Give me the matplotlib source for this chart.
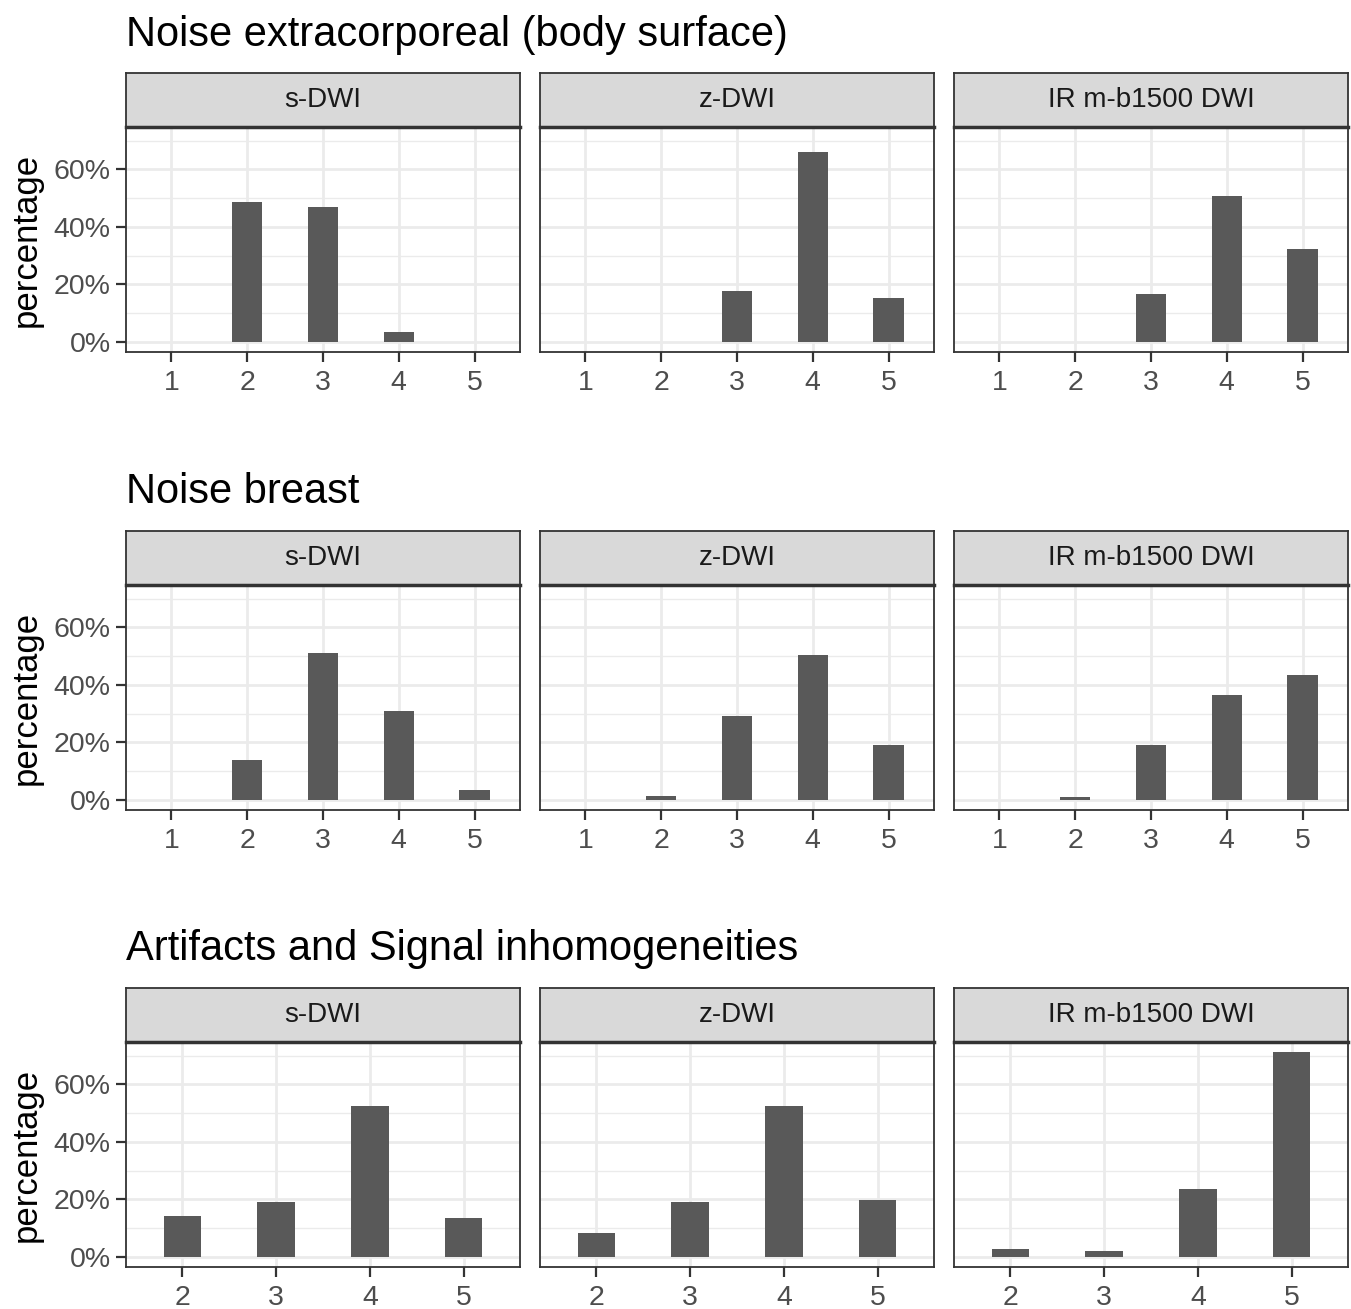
import matplotlib.pyplot as plt
from matplotlib.ticker import FuncFormatter, MultipleLocator

plt.rcParams['font.family'] = ['Liberation Sans', 'DejaVu Sans']

# ------------------------------------------------------------
# data (percent of ratings per score)
# ------------------------------------------------------------
methods = ["s-DWI", "z-DWI", "IR m-b1500 DWI"]
row_titles = ["Noise extracorporeal (body surface)",
              "Noise breast",
              "Artifacts and Signal inhomogeneities"]

scores_noise = [1, 2, 3, 4, 5]
scores_artifacts = [2, 3, 4, 5]

body_sdwi = [0, 48.7, 46.8, 3.5, 0]
body_zdwi = [0, 0, 17.8, 66.1, 15.2]
body_ir = [0, 0, 16.6, 50.8, 32.2]

breast_sdwi = [0, 13.9, 51.0, 31.0, 3.4]
breast_zdwi = [0, 1.4, 29.0, 50.4, 19.1]
breast_ir = [0, 0.8, 19.1, 36.6, 43.5]

artif_sdwi = [14.1, 19.2, 52.6, 13.4]
artif_zdwi = [8.2, 19.2, 52.4, 19.6]
artif_ir = [2.7, 1.9, 23.6, 71.2]

rows = [
    (scores_noise, [body_sdwi, body_zdwi, body_ir]),
    (scores_noise, [breast_sdwi, breast_zdwi, breast_ir]),
    (scores_artifacts, [artif_sdwi, artif_zdwi, artif_ir]),
]

# ------------------------------------------------------------
# layout (pixels)
# ------------------------------------------------------------
W, H = 1351, 1309
col_left = [126, 540, 954]
panel_w = 394
panel_top = [127, 585, 1042]
panel_h = 225
strip_h = 54
title_y = [35, 492, 949]

ymax = max(max(v) for _, vals in rows for v in vals)
ylim = (-0.05 * ymax, 1.05 * ymax)

dark = "#333333"
grid = "#EBEBEB"

fig = plt.figure(figsize=(W / 100, H / 100), dpi=100)

for r, (scores, vals) in enumerate(rows):
    fig.text(126 / W, 1 - title_y[r] / H, row_titles[r], fontsize=30,
             ha="left", va="center", color="black")
    for c in range(3):
        x0 = col_left[c] / W
        y0 = 1 - (panel_top[r] + panel_h) / H
        ax = fig.add_axes([x0, y0, panel_w / W, panel_h / H])
        ax.bar(scores, vals[c], width=0.4, color="#595959", linewidth=0, zorder=3)
        ax.set_xlim(min(scores) - 0.6, max(scores) + 0.6)
        ax.set_ylim(*ylim)
        ax.set_xticks(scores)
        ax.yaxis.set_major_locator(MultipleLocator(20))
        ax.yaxis.set_minor_locator(MultipleLocator(10))
        ax.xaxis.set_minor_locator(MultipleLocator(1))
        ax.grid(True, which="major", color=grid, linewidth=2, zorder=0)
        ax.grid(True, which="minor", axis="y", color=grid, linewidth=1, zorder=0)
        ax.set_axisbelow(True)
        for s in ax.spines.values():
            s.set_color(dark)
            s.set_linewidth(1.3)
        ax.tick_params(axis="both", which="major", length=7, width=1.6,
                       color=dark, labelsize=20.5, labelcolor="#4D4D4D", pad=4)
        ax.tick_params(axis="x", which="major", pad=6)
        ax.tick_params(axis="both", which="minor", length=0)
        if c == 0:
            ax.yaxis.set_major_formatter(FuncFormatter(lambda v, p: f"{v:.0f}%"))
            ax.set_ylabel("percentage", fontsize=25, color="black", labelpad=8)
        else:
            ax.tick_params(axis="y", which="major", length=0, labelleft=False)

        # facet strip
        sy0 = 1 - panel_top[r] / H
        sax = fig.add_axes([x0, sy0, panel_w / W, strip_h / H])
        sax.set_facecolor("#D9D9D9")
        sax.set_xticks([])
        sax.set_yticks([])
        for s in sax.spines.values():
            s.set_color(dark)
            s.set_linewidth(1.3)
        sax.spines["bottom"].set_linewidth(2.5)
        sax.text(0.5, 0.5, methods[c], transform=sax.transAxes, ha="center",
                 va="center", fontsize=20, color="#1A1A1A")

fig.savefig("out.png", dpi=100, facecolor="white")
